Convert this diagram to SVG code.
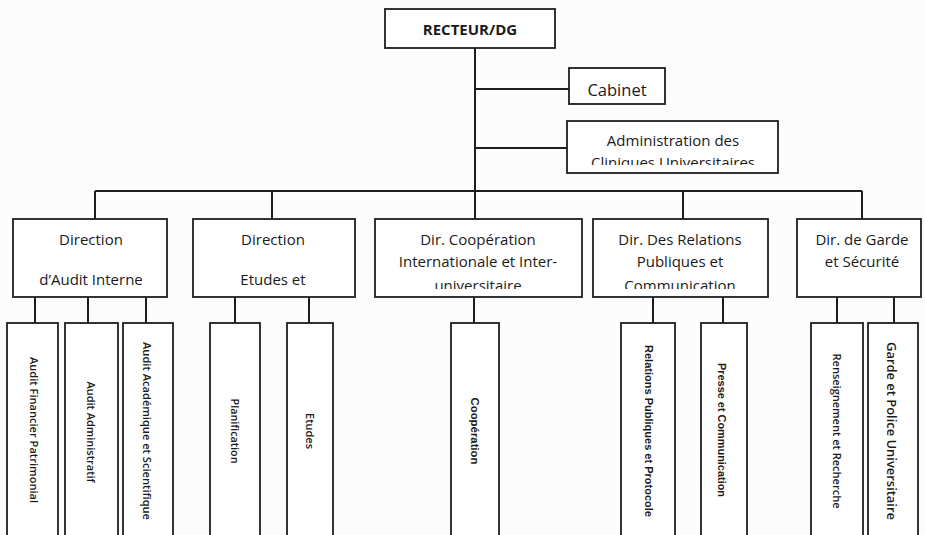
<svg xmlns="http://www.w3.org/2000/svg" width="925" height="535" viewBox="0 0 925 535">
  <style>
    .box { fill: #ffffff; stroke: #1e1e1e; stroke-width: 1.8; }
    .wire { fill: none; stroke: #1e1e1e; stroke-width: 2; }
    .t { font-family: "Open Sans", "Noto Sans", sans-serif; fill: #1a1a1a; text-anchor: middle; }
    .top { font-size: 15px; font-weight: 700; }
    .mid { font-size: 16.5px; }
    .lvl2 { font-size: 15px; }
    .vert { font-size: 11.5px; font-weight: 600; }
    .arial { font-family: "Liberation Sans", Arial, sans-serif; font-weight: 700; font-size: 11px; }
  </style>
  <defs>
    <clipPath id="clipAdmin"><rect x="567" y="121" width="211" height="44"/></clipPath>
    <clipPath id="clipCoop"><rect x="375" y="219" width="207" height="70"/></clipPath>
    <clipPath id="clipRel"><rect x="593" y="219" width="175" height="70"/></clipPath>
  </defs>

  <rect width="925" height="535" fill="#fcfcfc"/>

  <!-- connectors -->
  <g id="connectors" class="wire">
    <path d="M475 48 V219"/>
    <path d="M475 89 H569"/>
    <path d="M475 148 H567"/>
    <path d="M95 191 H862"/>
    <path d="M95 191 V219 M272 191 V219 M683 191 V219 M862 191 V219"/>
    <path d="M35 297 V323 M88 297 V323 M146 297 V323"/>
    <path d="M235 297 V323 M309 297 V323"/>
    <path d="M474 297 V323"/>
    <path d="M653 297 V323 M723 297 V323"/>
    <path d="M837 297 V323 M894 297 V323"/>
  </g>

  <!-- top level -->
  <g id="recteur">
    <rect class="box" x="385" y="9" width="170" height="39"/>
    <text class="t top" x="470" y="35">RECTEUR/DG</text>
  </g>
  <g id="cabinet">
    <rect class="box" x="569" y="68" width="96" height="36"/>
    <text class="t mid" x="617" y="96">Cabinet</text>
  </g>
  <g id="admin-cliniques">
    <rect class="box" x="567" y="121" width="211" height="52"/>
    <g clip-path="url(#clipAdmin)">
      <text class="t lvl2" x="673" y="146">Administration des</text>
      <text class="t lvl2" x="673" y="168">Cliniques Universitaires</text>
    </g>
  </g>

  <!-- directions -->
  <g id="dir-audit">
    <rect class="box" x="13" y="219" width="154" height="78"/>
    <text class="t lvl2" x="91" y="245">Direction</text>
    <text class="t lvl2" x="91" y="285">d’Audit Interne</text>
  </g>
  <g id="dir-etudes">
    <rect class="box" x="193" y="219" width="162" height="78"/>
    <text class="t lvl2" x="273" y="245">Direction</text>
    <text class="t lvl2" x="273" y="285">Etudes et</text>
  </g>
  <g id="dir-cooperation">
    <rect class="box" x="375" y="219" width="207" height="78"/>
    <g clip-path="url(#clipCoop)">
      <text class="t lvl2" x="478" y="245">Dir. Coopération</text>
      <text class="t lvl2" x="478" y="267">Internationale et Inter-</text>
      <text class="t lvl2" x="478" y="291">universitaire</text>
    </g>
  </g>
  <g id="dir-relations">
    <rect class="box" x="593" y="219" width="175" height="78"/>
    <g clip-path="url(#clipRel)">
      <text class="t lvl2" x="680" y="245">Dir. Des Relations</text>
      <text class="t lvl2" x="680" y="267">Publiques et</text>
      <text class="t lvl2" x="680" y="291">Communication</text>
    </g>
  </g>
  <g id="dir-garde">
    <rect class="box" x="797" y="219" width="124" height="78"/>
    <text class="t lvl2" x="862" y="245">Dir. de Garde</text>
    <text class="t lvl2" x="862" y="267">et Sécurité</text>
  </g>

  <!-- services (vertical labels) -->
  <g id="audit-financier">
    <rect class="box" x="7" y="323" width="51" height="220"/>
    <text class="t vert" transform="translate(30 430) rotate(90)" textLength="146" lengthAdjust="spacingAndGlyphs">Audit Financier Patrimonial</text>
  </g>
  <g id="audit-administratif">
    <rect class="box" x="65" y="323" width="53" height="220"/>
    <text class="t vert" transform="translate(87 432) rotate(90)" textLength="101" lengthAdjust="spacingAndGlyphs">Audit Administratif</text>
  </g>
  <g id="audit-academique">
    <rect class="box" x="123" y="323" width="50" height="220"/>
    <text class="t vert" transform="translate(143 431) rotate(90)" textLength="178" lengthAdjust="spacingAndGlyphs">Audit Académique et Scientifique</text>
  </g>
  <g id="planification">
    <rect class="box" x="210" y="323" width="50" height="220"/>
    <text class="t vert" transform="translate(231 431) rotate(90)" textLength="65" lengthAdjust="spacingAndGlyphs">Planification</text>
  </g>
  <g id="etudes">
    <rect class="box" x="287" y="323" width="46" height="220"/>
    <text class="t vert" transform="translate(306 431) rotate(90)" textLength="36" lengthAdjust="spacingAndGlyphs">Etudes</text>
  </g>
  <g id="cooperation">
    <rect class="box" x="451" y="323" width="48" height="220"/>
    <text class="t vert arial" transform="translate(471 431) rotate(90)" textLength="67" lengthAdjust="spacingAndGlyphs">Coopération</text>
  </g>
  <g id="relations-publiques">
    <rect class="box" x="621" y="323" width="54" height="220"/>
    <text class="t vert arial" transform="translate(645 431) rotate(90)" textLength="172" lengthAdjust="spacingAndGlyphs">Relations Publiques et Protocole</text>
  </g>
  <g id="presse-communication">
    <rect class="box" x="701" y="323" width="46" height="220"/>
    <text class="t vert arial" transform="translate(718 430) rotate(90)" textLength="134" lengthAdjust="spacingAndGlyphs">Presse et Communication</text>
  </g>
  <g id="renseignement">
    <rect class="box" x="811" y="323" width="52" height="220"/>
    <text class="t vert" transform="translate(833 431) rotate(90)" textLength="155" lengthAdjust="spacingAndGlyphs">Renseignement et Recherche</text>
  </g>
  <g id="garde-police">
    <rect class="box" x="868" y="323" width="50" height="220"/>
    <text class="t vert" style="font-size:12.5px" transform="translate(887 431) rotate(90)" textLength="178" lengthAdjust="spacingAndGlyphs">Garde et Police Universitaire</text>
  </g>
</svg>
